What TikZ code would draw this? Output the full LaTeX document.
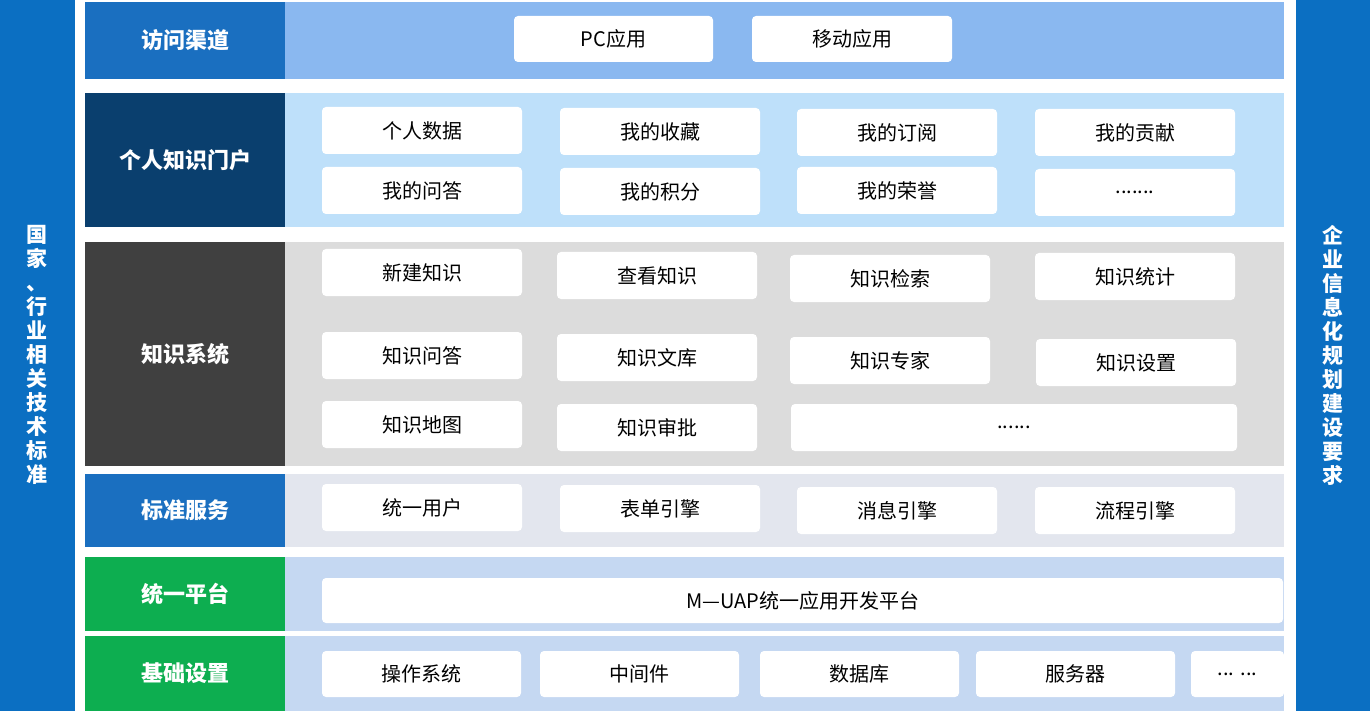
\documentclass[tikz,border=0pt]{standalone}
\usepackage{fontspec}
\setmainfont{Noto Sans CJK SC}
\definecolor{sideblue}{HTML}{0B6FC2}
\definecolor{labblue}{HTML}{1A6FC0}
\definecolor{labnavy}{HTML}{0A3F6E}
\definecolor{labgray}{HTML}{404040}
\definecolor{labgreen}{HTML}{0DAE50}
\definecolor{bgone}{HTML}{8AB8F0}
\definecolor{bgtwo}{HTML}{BEE0FA}
\definecolor{bgthree}{HTML}{DCDCDC}
\definecolor{bgfour}{HTML}{E3E6EE}
\definecolor{bgfive}{HTML}{C5D8F2}
\tikzset{
  side/.style = {fill=sideblue, text=white, font=\bfseries\fontsize{21}{24}\selectfont, align=center},
  lab/.style = {text=white, font=\bfseries\fontsize{22}{26}\selectfont},
  item/.style = {fill=white, rounded corners=4pt, font=\fontsize{20}{24}\selectfont}
}
% box from (x1,y1) to (x2,y2) with a name and text
\newcommand\itembox[6]{\fill[item] (#1,#2) rectangle (#3,#4);
  \node[font=\fontsize{20}{24}\selectfont] (#5) at ({(#1+#3)/2},{(#2+#4)/2}) {#6};}
\newcommand\layer[6]{\fill[#5] (285,#1) rectangle (1284,#2);
  \fill[#4] (85,#1) rectangle (285,#2);
  \node[lab] (#3) at (185,{(#1+#2)/2}) {#6};}
\begin{document}
\begin{tikzpicture}[x=1pt, y=-1pt]
  \useasboundingbox (0,0) rectangle (1370,711);
  \fill[sideblue] (0,0) rectangle (75,711);
  \fill[sideblue] (1296,0) rectangle (1370,711);
  \node[side] (std) at (37.5,355) {国\\家\\、\\行\\业\\相\\关\\技\\术\\标\\准};
  \node[side] (req) at (1333,355) {企\\业\\信\\息\\化\\规\\划\\建\\设\\要\\求};
  % layers
  \layer{2}{79}{chan}{labblue}{bgone}{访问渠道}
  \layer{93}{227}{port}{labnavy}{bgtwo}{个人知识门户}
  \layer{242}{466}{ksys}{labgray}{bgthree}{知识系统}
  \layer{474}{547}{serv}{labblue}{bgfour}{标准服务}
  \layer{557}{631}{plat}{labgreen}{bgfive}{统一平台}
  \layer{636}{711}{base}{labgreen}{bgfive}{基础设置}
  % access channels
  \itembox{514}{16}{713}{62}{pc}{PC应用}
  \itembox{752}{16}{952}{62}{mob}{移动应用}
  % portal
  \itembox{322}{107}{522}{154}{p1}{个人数据}
  \itembox{560}{108}{760}{155}{p2}{我的收藏}
  \itembox{797}{109}{997}{156}{p3}{我的订阅}
  \itembox{1035}{109}{1235}{156}{p4}{我的贡献}
  \itembox{322}{167}{522}{214}{p5}{我的问答}
  \itembox{560}{168}{760}{215}{p6}{我的积分}
  \itembox{797}{167}{997}{214}{p7}{我的荣誉}
  \itembox{1035}{169}{1235}{216}{p8}{.......}
  % knowledge system
  \itembox{322}{249}{522}{296}{k1}{新建知识}
  \itembox{557}{252}{757}{299}{k2}{查看知识}
  \itembox{790}{255}{990}{302}{k3}{知识检索}
  \itembox{1035}{253}{1235}{300}{k4}{知识统计}
  \itembox{322}{332}{522}{379}{k5}{知识问答}
  \itembox{557}{334}{757}{381}{k6}{知识文库}
  \itembox{790}{337}{990}{384}{k7}{知识专家}
  \itembox{1036}{339}{1236}{386}{k8}{知识设置}
  \itembox{322}{401}{522}{448}{k9}{知识地图}
  \itembox{557}{404}{757}{451}{k10}{知识审批}
  \itembox{791}{404}{1237}{451}{k11}{......}
  % services
  \itembox{322}{484}{522}{531}{s1}{统一用户}
  \itembox{560}{485}{760}{532}{s2}{表单引擎}
  \itembox{797}{487}{997}{534}{s3}{消息引擎}
  \itembox{1035}{487}{1235}{534}{s4}{流程引擎}
  % platform
  \itembox{322}{578}{1283}{623}{uap}{M—UAP统一应用开发平台}
  % base
  \itembox{322}{651}{521}{697}{b1}{操作系统}
  \itembox{540}{651}{739}{697}{b2}{中间件}
  \itembox{760}{651}{959}{697}{b3}{数据库}
  \itembox{976}{651}{1175}{697}{b4}{服务器}
  \itembox{1191}{651}{1284}{697}{b5}{... ...}
\end{tikzpicture}
\end{document}
